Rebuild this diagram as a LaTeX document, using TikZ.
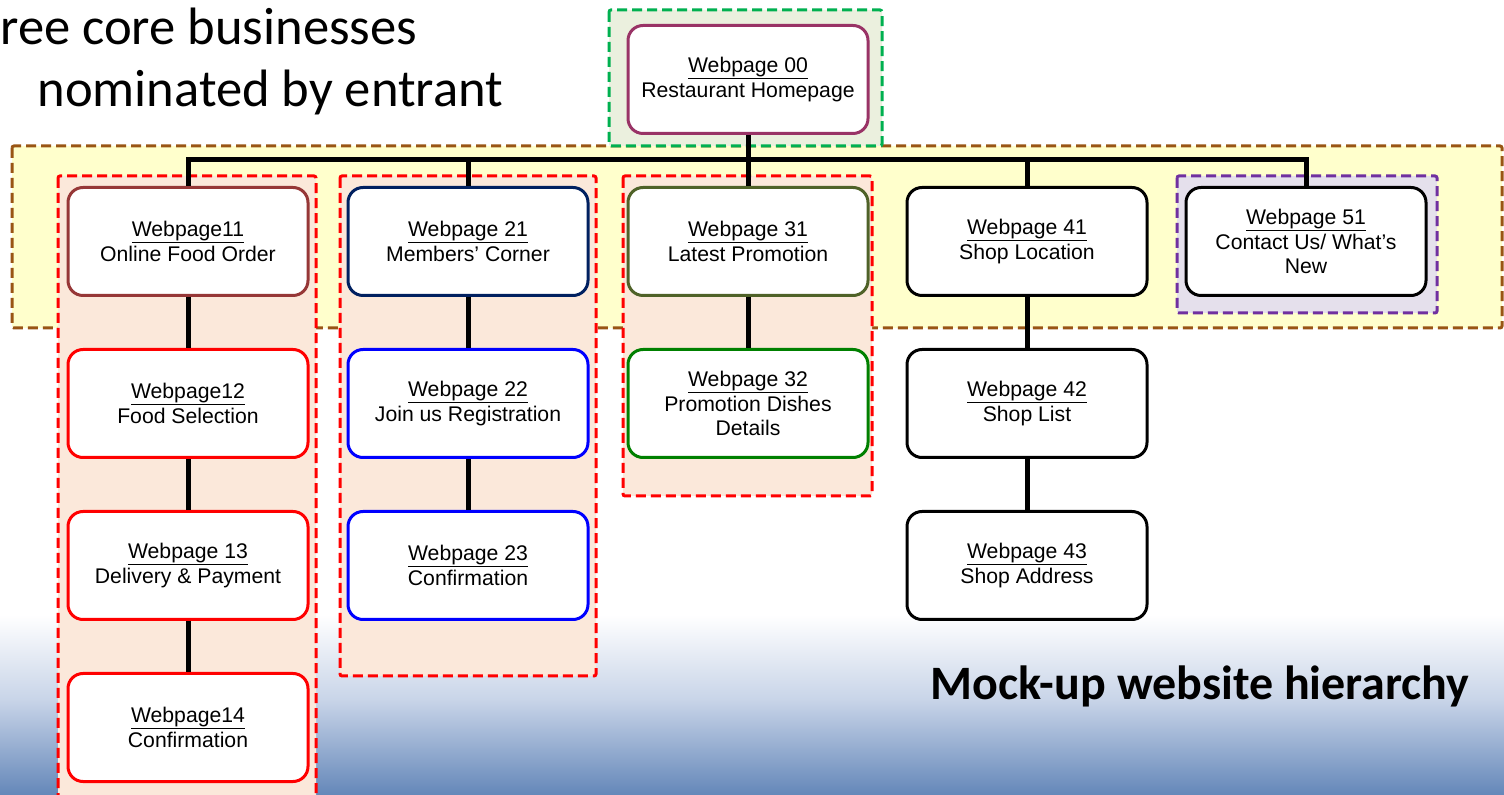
\documentclass[tikz,border=0pt]{standalone}
\usepackage{fontspec}
\setmainfont{Liberation Sans}
\newfontfamily\carlitofont{Carlito}
\newcommand\pageul[1]{\setbox0\hbox{#1}\rlap{\rule[-3.1pt]{\wd0}{0.55pt}}\box0}
\definecolor{bgblue}{RGB}{100,135,185}
\definecolor{midblue}{RGB}{200,212,232}
\definecolor{framebrown}{RGB}{153,85,20}
\definecolor{fillyellow}{RGB}{255,255,204}
\definecolor{framegreen}{RGB}{0,176,80}
\definecolor{fillgreen}{RGB}{235,240,222}
\definecolor{fillpeach}{RGB}{251,232,218}
\definecolor{framepurple}{RGB}{112,48,160}
\definecolor{fillpurple}{RGB}{229,224,236}
\definecolor{c00}{RGB}{153,51,102}
\definecolor{c11}{RGB}{150,55,55}
\definecolor{c21}{RGB}{0,32,96}
\definecolor{c31}{RGB}{79,98,40}
\definecolor{c32}{RGB}{0,128,0}
\begin{document}
\begin{tikzpicture}[x=0.5pt,y=-0.5pt,
  page/.style={draw, line width=1.5pt, rounded corners=7.5pt, fill=white,
    minimum width=120pt, minimum height=54pt, align=center, inner sep=2pt,
    font=\fontsize{10.6}{12.3}\selectfont},
  frame/.style={line width=1.5pt, dash pattern=on 5pt off 2.5pt, rounded corners=1pt},
  link/.style={line width=2.5pt},
  title/.style={font=\carlitofont\fontsize{26.3}{30}\selectfont, inner sep=0pt}]
\useasboundingbox (0,0) rectangle (1504,795);
\fill[white] (0,0) rectangle (1504,795);
\shade[top color=white, bottom color=midblue] (0,615) rectangle (1504,700);
\shade[top color=midblue, bottom color=bgblue] (0,700) rectangle (1504,795);
% frames
\draw[frame, draw=framebrown, fill=fillyellow] (12,146) rectangle (1502,328);
\draw[frame, draw=framegreen, fill=fillgreen] (609,10) rectangle (882,146);
\draw[frame, draw=red, fill=fillpeach] (58,176) rectangle (316,800);
\draw[frame, draw=red, fill=fillpeach] (340,176) rectangle (596,676);
\draw[frame, draw=red, fill=fillpeach] (623,176) rectangle (872,496);
\draw[frame, draw=framepurple, fill=fillpurple] (1177,176) rectangle (1437,313);
% nodes
\node[page, draw=c00] (n00) at (748,79.5) {\pageul{Webpage 00}\\Restaurant Homepage};
\node[page, draw=c11] (n11) at (188,241.5) {\pageul{Webpage11}\\Online Food Order};
\node[page, draw=red] (n12) at (188,403.5) {\pageul{Webpage12}\\Food Selection};
\node[page, draw=red] (n13) at (188,565.5) {\pageul{Webpage 13}\\Delivery \& Payment};
\node[page, draw=red] (n14) at (188,727.5) {\pageul{Webpage14}\\Confirmation};
\node[page, draw=c21] (n21) at (468,241.5) {\pageul{Webpage 21}\\Members’ Corner};
\node[page, draw=blue] (n22) at (468,403.5) {\pageul{Webpage 22}\\Join us Registration};
\node[page, draw=blue] (n23) at (468,565.5) {\pageul{Webpage 23}\\Confirmation};
\node[page, draw=c31] (n31) at (748,241.5) {\pageul{Webpage 31}\\Latest Promotion};
\node[page, draw=c32] (n32) at (748,403.5) {\pageul{Webpage 32}\\Promotion Dishes\\Details};
\node[page, draw=black] (n41) at (1027,241.5) {\pageul{Webpage 41}\\Shop Location};
\node[page, draw=black] (n42) at (1027,403.5) {\pageul{Webpage 42}\\Shop List};
\node[page, draw=black] (n43) at (1027,565.5) {\pageul{Webpage 43}\\Shop Address};
\node[page, draw=black] (n51) at (1306,241.5) {\pageul{Webpage 51}\\Contact Us/ What’s\\New};
% connectors
\coordinate (bus) at (748,160);
\draw[link] (n00.south) -- (bus);
\draw[link] (n11.north) |- (bus) -| (n51.north);
\draw[link] (n21.north) -- (n21.north |- bus);
\draw[link] (n31.north) -- (n31.north |- bus);
\draw[link] (n41.north) -- (n41.north |- bus);
\draw[link] (n11) -- (n12);
\draw[link] (n12) -- (n13);
\draw[link] (n13) -- (n14);
\draw[link] (n21) -- (n22);
\draw[link] (n22) -- (n23);
\draw[link] (n31) -- (n32);
\draw[link] (n41) -- (n42);
\draw[link] (n42) -- (n43);
% titles
\node[title, anchor=base west] (t1) at (0,45) {ree core businesses};
\node[title, anchor=base west] (t2) at (37,107) {nominated by entrant};
\node[title, anchor=base east, font=\carlitofont\bfseries\fontsize{24}{28}\selectfont] (t3) at (1470,700) {Mock-up website hierarchy};
\end{tikzpicture}
\end{document}
